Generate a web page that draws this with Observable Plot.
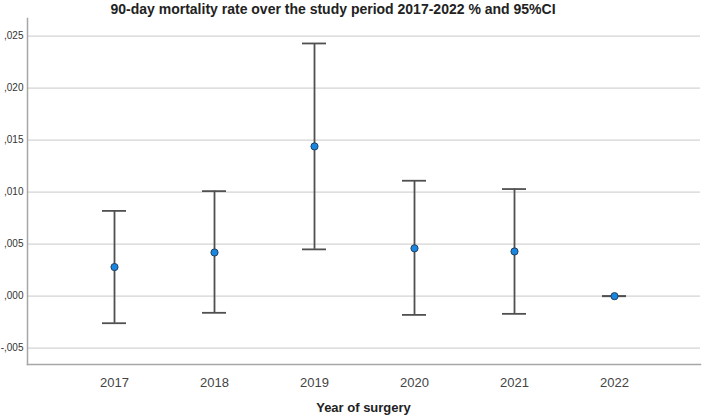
<!DOCTYPE html>
<html>
<head>
<meta charset="utf-8">
<script src="https://cdn.jsdelivr.net/npm/d3@7"></script>
<script src="https://cdn.jsdelivr.net/npm/@observablehq/plot@0.6"></script>
<style>
  html, body { margin: 0; padding: 0; background: #fff; }
  #wrap { position: relative; width: 702px; height: 418px; overflow: hidden; font-family: "Liberation Sans", Arial, sans-serif; }
  #title { position: absolute; left: 0; width: 666px; top: 1px; text-align: center; font-weight: bold; font-size: 14px; color: #222; white-space: nowrap; }
  #xtitle { position: absolute; left: 27px; width: 673px; top: 400px; text-align: center; font-weight: bold; font-size: 13px; color: #222; }
  #chart { position: absolute; left: 0; top: 0; }
</style>
</head>
<body>
<div id="wrap">
  <div id="chart"></div>
  <div id="title">90-day mortality rate over the study period 2017-2022 % and 95%CI</div>
  <div id="xtitle">Year of surgery</div>
</div>
<script>
// 90-day mortality rate per year of surgery, with 95% confidence interval
const years = ["2017", "2018", "2019", "2020", "2021", "2022"];
const rate  = [0.0028, 0.0042, 0.0144, 0.0046, 0.0043, 0.0000];
const lower = [-0.0026, -0.0016, 0.0045, -0.0018, -0.0017, 0.0000];
const upper = [0.0082, 0.0101, 0.0243, 0.0111, 0.0103, 0.0000];
const yTicks = [-0.005, 0, 0.005, 0.010, 0.015, 0.020, 0.025];

const rows = years.map((year, i) => ({year, rate: rate[i], lower: lower[i], upper: upper[i]}));

// SPSS-style decimal labels: comma separator, no leading zero, plain hyphen minus
const fmt = d => d3.format(".3f")(d).replace("\u2212", "-").replace("0.", ",");

const chart = Plot.plot({
  width: 702,
  height: 418,
  marginTop: 18,
  marginBottom: 54,
  marginLeft: 27,
  marginRight: 2,
  style: { fontFamily: "Liberation Sans, Arial, sans-serif", background: "#fff" },
  x: { type: "band", domain: years, paddingInner: 0, paddingOuter: 0.342, label: null },
  y: { domain: [-0.00657, 0.0267], label: null },
  marks: [
    Plot.gridY(yTicks, { stroke: "#d4d4d4", strokeOpacity: 1, strokeWidth: 1.3 }),
    Plot.axisY(yTicks, { tickSize: 0, tickPadding: 4, tickFormat: fmt, fontSize: 10, fill: "#333", label: null }),
    Plot.axisX({ tickSize: 0, tickPadding: 13, fontSize: 13, fill: "#444", label: null }),
    Plot.frame({ anchor: "left", stroke: "#a6a6a6", strokeWidth: 1.5 }),
    Plot.frame({ anchor: "bottom", stroke: "#a6a6a6", strokeWidth: 1.5 }),
    Plot.ruleX(rows, { x: "year", y1: "lower", y2: "upper", stroke: "#505050", strokeWidth: 1.8 }),
    Plot.tickY(rows, { x: "year", y: "upper", stroke: "#505050", strokeWidth: 1.8, insetLeft: 38, insetRight: 38 }),
    Plot.tickY(rows, { x: "year", y: "lower", stroke: "#505050", strokeWidth: 1.8, insetLeft: 38, insetRight: 38 }),
    Plot.dot(rows, { x: "year", y: "rate", r: 3.6, fill: "#1a86e0", stroke: "#1f3550", strokeWidth: 0.9 })
  ]
});
document.getElementById("chart").appendChild(chart);
</script>
</body>
</html>
